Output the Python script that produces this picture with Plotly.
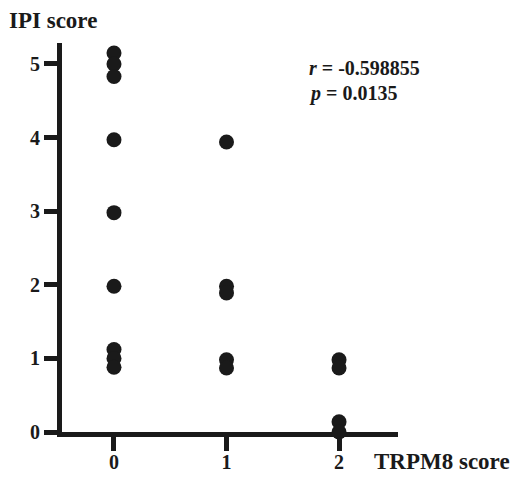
import plotly.graph_objects as go

trpm8_score = [0, 0, 0, 0, 0, 0, 0, 0, 0,
               1, 1, 1, 1, 1,
               2, 2, 2, 2]
ipi_score = [5.15, 5.0, 4.83, 3.97, 2.98, 1.98, 1.12, 1.0, 0.88,
             3.94, 1.98, 1.89, 0.98, 0.87,
             0.98, 0.87, 0.14, 0.0]
x_ticks = [0, 1, 2]
y_ticks = [0, 1, 2, 3, 4, 5]
r_text = "<i>r</i> = -0.598855"
p_text = "<i>p</i> = 0.0135"

FONT = "Liberation Serif"
INK = "#1a1a1a"

fig = go.Figure()
fig.add_trace(go.Scatter(
    x=trpm8_score, y=ipi_score, mode="markers",
    marker=dict(size=15, color=INK, line=dict(width=0)),
    cliponaxis=False, showlegend=False,
))

fig.update_layout(
    template="none",
    width=513, height=477,
    margin=dict(l=62, r=115, t=43, b=45, autoexpand=False),
    plot_bgcolor="white", paper_bgcolor="white",
    font=dict(family=FONT, size=20, color=INK),
    xaxis=dict(range=[-0.462, 2.524], tickvals=x_ticks, ticktext=[str(v) for v in x_ticks],
               automargin=False, ticklabelstandoff=-6,
               showgrid=False, zeroline=False, showline=True, linecolor=INK, linewidth=5,
               ticks="outside", ticklen=14, tickwidth=5, tickcolor=INK,
               tickfont=dict(family=FONT, size=20, color=INK, weight="bold"), fixedrange=True),
    yaxis=dict(range=[0, 5.285], tickvals=y_ticks, ticktext=[str(v) for v in y_ticks],
               automargin=False,
               showgrid=False, zeroline=False, showline=True, linecolor=INK, linewidth=5,
               ticks="outside", ticklen=13, tickwidth=5, tickcolor=INK,
               tickfont=dict(family=FONT, size=20, color=INK, weight="bold"), fixedrange=True),
    annotations=[
        dict(text="<b>IPI score</b>", xref="paper", yref="paper", x=-0.163, y=1.059,
             xanchor="left", yanchor="middle", showarrow=False, font=dict(size=23)),
        dict(text="<b>TRPM8 score</b>", xref="paper", yref="paper", x=0.923, y=-0.077,
             xanchor="left", yanchor="middle", showarrow=False, font=dict(size=23)),
        dict(text="<b>" + r_text + "</b>", xref="paper", yref="paper", x=0.729, y=0.936,
             xanchor="left", yanchor="middle", showarrow=False, font=dict(size=20)),
        dict(text="<b>" + p_text + "</b>", xref="paper", yref="paper", x=0.729, y=0.871,
             xanchor="left", yanchor="middle", showarrow=False, font=dict(size=20)),
    ],
)

fig.write_html("out.html", config={"displayModeBar": False})

with open("out.html", "r", encoding="utf-8") as f:
    html = f.read()
html = html.replace("<head>", "<head><style>html,body{margin:0;padding:0;overflow:hidden;}</style>", 1)
with open("out.html", "w", encoding="utf-8") as f:
    f.write(html)
